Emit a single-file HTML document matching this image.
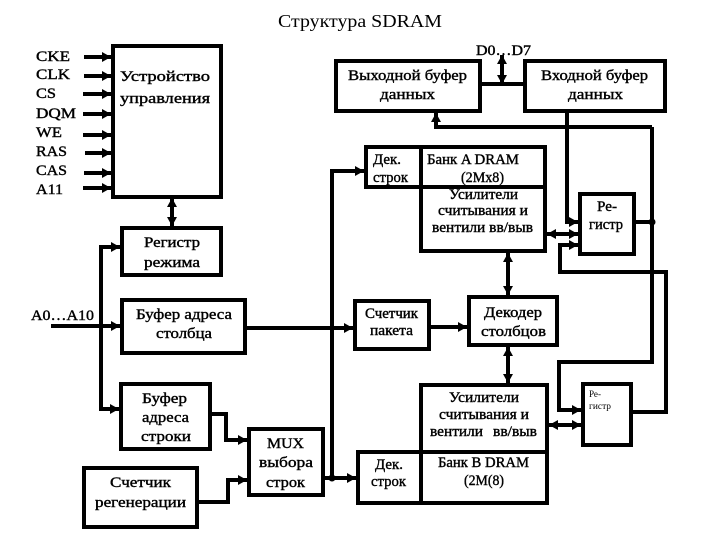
<!DOCTYPE html>
<html><head><meta charset="utf-8"><style>
html,body{margin:0;padding:0;background:#fff}
svg{display:block}
text{font-family:"Liberation Serif","Noto Serif CJK SC",serif;font-size:15px;fill:#000;stroke:#000;stroke-width:.4}
rect{fill:none;stroke:#000;stroke-width:4}
path,line{fill:none;stroke:#000;stroke-width:4}
</style></head><body>
<svg width="720" height="540" viewBox="0 0 720 540" xmlns="http://www.w3.org/2000/svg">
<defs><marker id="a" markerUnits="userSpaceOnUse" markerWidth="10" markerHeight="12" refX="9" refY="6" orient="auto-start-reverse"><polygon points="0,1 9,6 0,11" fill="#000"/></marker></defs>
<rect x="113" y="46" width="108" height="151"/>
<rect x="122" y="228" width="99" height="47"/>
<rect x="122" y="300" width="123" height="53"/>
<rect x="121" y="384" width="89" height="65"/>
<rect x="84" y="468" width="113" height="59"/>
<rect x="249" y="429" width="74" height="66"/>
<rect x="336" y="61" width="144" height="50"/>
<rect x="525" y="61" width="140" height="50"/>
<rect x="366" y="147" width="55" height="40"/>
<rect x="421" y="147" width="124" height="40"/>
<rect x="421" y="187" width="124" height="64"/>
<rect x="580" y="194" width="54" height="60"/>
<rect x="355" y="301" width="74" height="48"/>
<rect x="469" y="297" width="88" height="48"/>
<rect x="421" y="385" width="126" height="67"/>
<rect x="421" y="452" width="126" height="51"/>
<rect x="358" y="452" width="63" height="51"/>
<rect x="583" y="384" width="48" height="61"/>
<g marker-end="url(#a)">
<line x1="84" y1="57" x2="111" y2="57"/><line x1="84" y1="76" x2="111" y2="76"/><line x1="83" y1="94" x2="111" y2="94"/><line x1="83" y1="114" x2="111" y2="114"/><line x1="83" y1="135" x2="111" y2="135"/><line x1="85" y1="153" x2="111" y2="153"/><line x1="84" y1="173" x2="111" y2="173"/><line x1="83" y1="188" x2="111" y2="188"/>
<path d="M101 409V247H120"/><path d="M101 320V409H119"/>
<line x1="51" y1="326" x2="120" y2="326"/>
<line x1="247" y1="328" x2="353" y2="328"/>
<path d="M212 414H226V440H247"/>
<path d="M199 502H228V480H247"/>
<line x1="325" y1="478" x2="356" y2="478"/>
<path d="M332 478V171H364"/>
<line x1="431" y1="327" x2="467" y2="327"/>
<path d="M652 127H436V113"/>
<path d="M567 113V222H578"/>
<path d="M652 127V362H559V410H581"/>
<path d="M633 412H666V272H560V245H578"/>
</g>
<g marker-start="url(#a)" marker-end="url(#a)">
<line x1="172" y1="198" x2="172" y2="226"/>
<line x1="508" y1="253" x2="508" y2="295"/>
<line x1="508" y1="347" x2="508" y2="383"/>
<line x1="502" y1="55" x2="502" y2="84"/>
<line x1="547" y1="234" x2="578" y2="234"/>
<line x1="549" y1="425" x2="581" y2="425"/>
</g>
<line x1="482" y1="84" x2="523" y2="84"/>
<line x1="636" y1="222" x2="652" y2="222"/>
<circle cx="332" cy="478" r="3.5"/><circle cx="652" cy="222" r="3.5"/>
<g>
<text x="278" y="27" textLength="164" lengthAdjust="spacingAndGlyphs" style="font-size:18px;stroke-width:0">Структура SDRAM</text>
<text x="36" y="61" textLength="34" lengthAdjust="spacingAndGlyphs">CKE</text>
<text x="36" y="79" textLength="34" lengthAdjust="spacingAndGlyphs">CLK</text>
<text x="36" y="98" textLength="20" lengthAdjust="spacingAndGlyphs">CS</text>
<text x="36" y="118" textLength="40" lengthAdjust="spacingAndGlyphs">DQM</text>
<text x="36" y="137" textLength="26" lengthAdjust="spacingAndGlyphs">WE</text>
<text x="36" y="156" textLength="31" lengthAdjust="spacingAndGlyphs">RAS</text>
<text x="36" y="175" textLength="31" lengthAdjust="spacingAndGlyphs">CAS</text>
<text x="36" y="194" textLength="27" lengthAdjust="spacingAndGlyphs">A11</text>
<text x="120" y="81" textLength="90" lengthAdjust="spacingAndGlyphs">Устройство</text>
<text x="120" y="103" textLength="90" lengthAdjust="spacingAndGlyphs">управления</text>
<text x="144" y="247" textLength="56" lengthAdjust="spacingAndGlyphs">Регистр</text>
<text x="144" y="267" textLength="56" lengthAdjust="spacingAndGlyphs">режима</text>
<text x="31" y="320" textLength="63" lengthAdjust="spacingAndGlyphs">A0…A10</text>
<text x="136" y="319" textLength="96" lengthAdjust="spacingAndGlyphs">Буфер адреса</text>
<text x="156" y="338" textLength="56" lengthAdjust="spacingAndGlyphs">столбца</text>
<text x="142" y="403" textLength="45" lengthAdjust="spacingAndGlyphs">Буфер</text>
<text x="142" y="422" textLength="47" lengthAdjust="spacingAndGlyphs">адреса</text>
<text x="141" y="441" textLength="50" lengthAdjust="spacingAndGlyphs">строки</text>
<text x="110" y="487" textLength="61" lengthAdjust="spacingAndGlyphs">Счетчик</text>
<text x="95" y="507" textLength="91" lengthAdjust="spacingAndGlyphs">регенерации</text>
<text x="267" y="448" textLength="37" lengthAdjust="spacingAndGlyphs">MUX</text>
<text x="259" y="467" textLength="54" lengthAdjust="spacingAndGlyphs">выбора</text>
<text x="266" y="487" textLength="39" lengthAdjust="spacingAndGlyphs">строк</text>
<text x="348" y="80" textLength="119" lengthAdjust="spacingAndGlyphs">Выходной буфер</text>
<text x="380" y="99" textLength="55" lengthAdjust="spacingAndGlyphs">данных</text>
<text x="476" y="55" textLength="55" lengthAdjust="spacingAndGlyphs">D0…D7</text>
<text x="541" y="80" textLength="107" lengthAdjust="spacingAndGlyphs">Входной буфер</text>
<text x="568" y="99" textLength="55" lengthAdjust="spacingAndGlyphs">данных</text>
<text x="373" y="164" textLength="28" lengthAdjust="spacingAndGlyphs">Дек.</text>
<text x="373" y="182" textLength="35" lengthAdjust="spacingAndGlyphs">строк</text>
<text x="427" y="164" textLength="92" lengthAdjust="spacingAndGlyphs">Банк A DRAM</text>
<text x="461" y="182" textLength="43" lengthAdjust="spacingAndGlyphs">(2Mx8)</text>
<text x="449" y="199" textLength="69" lengthAdjust="spacingAndGlyphs">Усилители</text>
<text x="438" y="215" textLength="90" lengthAdjust="spacingAndGlyphs">считывания и</text>
<text x="432" y="232" textLength="101" lengthAdjust="spacingAndGlyphs">вентили вв/выв</text>
<text x="597" y="211" textLength="20" lengthAdjust="spacingAndGlyphs">Ре-</text>
<text x="589" y="229" textLength="34" lengthAdjust="spacingAndGlyphs">гистр</text>
<text x="365" y="318" textLength="53" lengthAdjust="spacingAndGlyphs">Счетчик</text>
<text x="370" y="335" textLength="43" lengthAdjust="spacingAndGlyphs">пакета</text>
<text x="484" y="317" textLength="58" lengthAdjust="spacingAndGlyphs">Декодер</text>
<text x="481" y="336" textLength="65" lengthAdjust="spacingAndGlyphs">столбцов</text>
<text x="449" y="402" textLength="70" lengthAdjust="spacingAndGlyphs">Усилители</text>
<text x="439" y="419" textLength="90" lengthAdjust="spacingAndGlyphs">считывания и</text>
<text x="430" y="436" textLength="53" lengthAdjust="spacingAndGlyphs">вентили</text>
<text x="493" y="436" textLength="44" lengthAdjust="spacingAndGlyphs">вв/выв</text>
<text x="438" y="467" textLength="91" lengthAdjust="spacingAndGlyphs">Банк B DRAM</text>
<text x="464" y="485" textLength="40" lengthAdjust="spacingAndGlyphs">(2M(8)</text>
<text x="375" y="469" textLength="28" lengthAdjust="spacingAndGlyphs">Дек.</text>
<text x="371" y="486" textLength="35" lengthAdjust="spacingAndGlyphs">строк</text>
<text x="589" y="397" textLength="12" lengthAdjust="spacingAndGlyphs" style="font-size:9px;stroke-width:0">Ре-</text>
<text x="589" y="409" textLength="22" lengthAdjust="spacingAndGlyphs" style="font-size:9px;stroke-width:0">гистр</text>
</g>
</svg>
</body></html>
